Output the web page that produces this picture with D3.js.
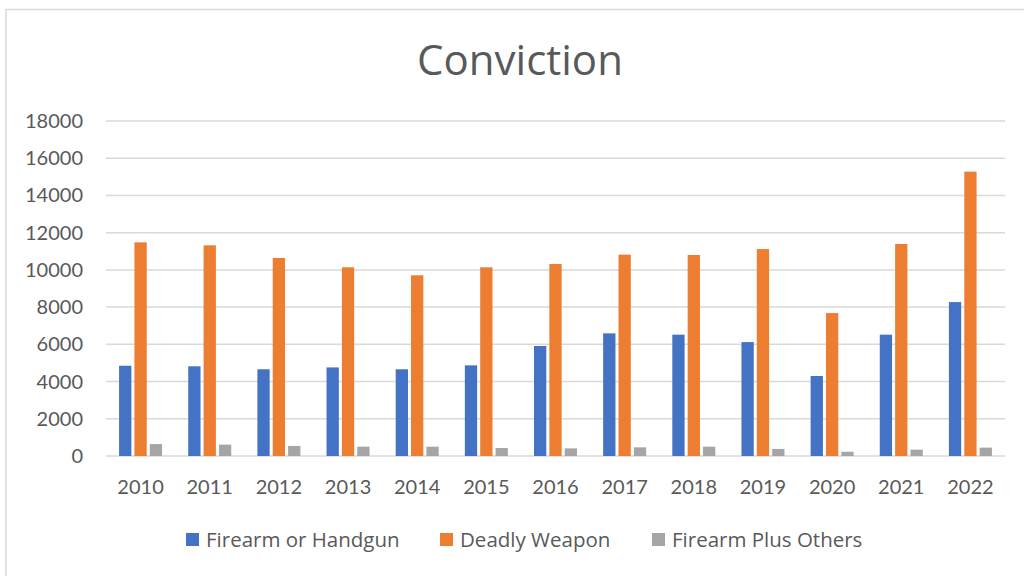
<!DOCTYPE html>
<meta charset="utf-8">
<style>
body { margin: 0; background: #fff; }
text { font-family: Lato, "Open Sans", sans-serif; fill: #595959; }
.os { font-family: "Open Sans", sans-serif; }
</style>
<body>
<script src="https://cdn.jsdelivr.net/npm/d3@7"></script>
<script>

// data
var years = ["2010","2011","2012","2013","2014","2015","2016","2017","2018","2019","2020","2021","2022"];
var seriesNames = ["Firearm or Handgun", "Deadly Weapon", "Firearm Plus Others"];
var firearm = [4850, 4820, 4660, 4760, 4660, 4870, 5910, 6590, 6520, 6120, 4300, 6520, 8270];
var deadly = [11480, 11320, 10640, 10140, 9710, 10140, 10320, 10820, 10800, 11120, 7680, 11390, 15280];
var plusOthers = [640, 610, 540, 500, 500, 430, 410, 465, 500, 380, 230, 340, 450];
var yTicks = [0, 2000, 4000, 6000, 8000, 10000, 12000, 14000, 16000, 18000];
var colors = ["#4472C4", "#ED7D31", "#A5A5A5"];

var W = 1024, H = 576;
var plot = {left: 106, right: 1005, top: 121, bottom: 456};

var svg = d3.select("body").append("svg")
  .attr("width", W)
  .attr("height", H);

// outer chart border
svg.append("rect")
  .attr("x", 6).attr("y", 9.5)
  .attr("width", W + 20).attr("height", H + 20)
  .attr("fill", "#fff")
  .attr("stroke", "#d9d9d9")
  .attr("stroke-width", 1.5);

var x0 = d3.scaleBand().domain(years).range([plot.left, plot.right]);
var groupW = 43;
var x1 = d3.scaleBand().domain(seriesNames).range([0, groupW]).paddingInner(0.2);
var y = d3.scaleLinear().domain([0, 18000]).range([plot.bottom, plot.top]);

// gridlines
svg.append("g").selectAll("line")
  .data(yTicks)
  .enter().append("line")
    .attr("x1", plot.left).attr("x2", plot.right)
    .attr("y1", function(d) { return y(d); })
    .attr("y2", function(d) { return y(d); })
    .attr("stroke", "#d9d9d9")
    .attr("stroke-width", 1.5);

// y labels
svg.append("g").selectAll("text")
  .data(yTicks)
  .enter().append("text")
    .attr("x", 83)
    .attr("y", function(d) { return y(d) + 7; })
    .attr("text-anchor", "end")
    .style("font-size", "20px")
    .text(function(d) { return d; });

// bars
var table = years.map(function(yr, i) {
  return {year: yr, vals: [firearm[i], deadly[i], plusOthers[i]]};
});
var off = (x0.bandwidth() - groupW) / 2;

svg.append("g").selectAll("g")
  .data(table)
  .enter().append("g")
    .attr("transform", function(d) { return "translate(" + (x0(d.year) + off) + ",0)"; })
  .selectAll("rect")
    .data(function(d) { return d.vals.map(function(v, k) { return {k: k, v: v}; }); })
  .enter().append("rect")
    .attr("x", function(d) { return x1(seriesNames[d.k]); })
    .attr("y", function(d) { return y(d.v); })
    .attr("width", x1.bandwidth())
    .attr("height", function(d) { return y(0) - y(d.v); })
    .attr("fill", function(d) { return colors[d.k]; });

// x labels
svg.append("g").selectAll("text")
  .data(years)
  .enter().append("text")
    .attr("x", function(d) { return x0(d) + x0.bandwidth() / 2; })
    .attr("y", 494)
    .attr("text-anchor", "middle")
    .style("font-size", "20px")
    .text(function(d) { return d; });

// title
svg.append("text")
  .attr("class", "os")
  .attr("x", 520)
  .attr("y", 75)
  .attr("text-anchor", "middle")
  .style("font-size", "42px")
  .text("Conviction");

// legend
var legX = [186, 440, 652];
var leg = svg.append("g").selectAll("g")
  .data(seriesNames)
  .enter().append("g")
    .attr("transform", function(d, i) { return "translate(" + legX[i] + ",533)"; });
leg.append("rect")
  .attr("width", 13).attr("height", 13)
  .attr("fill", function(d, i) { return colors[i]; });
leg.append("text")
  .attr("class", "os")
  .attr("x", 20)
  .attr("y", 14)
  .style("font-size", "20.5px")
  .text(function(d) { return d; });

</script>
